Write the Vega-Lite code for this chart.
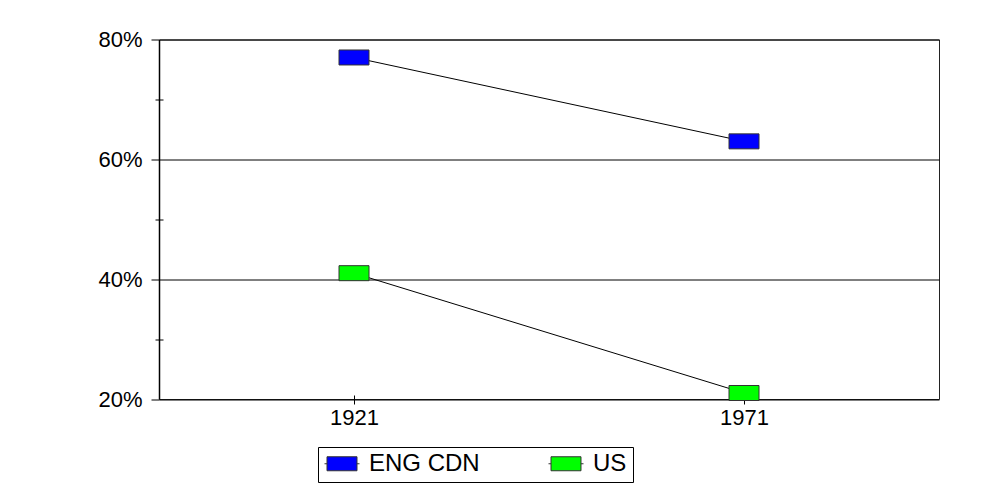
{
  "$schema": "https://vega.github.io/schema/vega-lite/v6.json",
  "autosize": {"type": "none"},
  "width": 780,
  "height": 359.5,
  "padding": {"left": 159, "top": 39.5, "right": 50, "bottom": 88},
  "background": "white",
  "config": {
    "font": "Liberation Sans",
    "view": {"stroke": "#222", "strokeWidth": 1},
    "axis": {"labelFont": "Liberation Sans", "labelColor": "#000", "tickColor": "#000", "title": null}
  },
  "data": {
    "values": [
      {"year": "1921", "series": "ENG CDN", "share": 0.77},
      {"year": "1971", "series": "ENG CDN", "share": 0.63},
      {"year": "1921", "series": "US", "share": 0.41},
      {"year": "1971", "series": "US", "share": 0.21}
    ]
  },
  "encoding": {
    "x": {
      "field": "year",
      "type": "ordinal",
      "scale": {"type": "point", "padding": 0.5},
      "axis": {
        "labelAngle": 0,
        "labelFontSize": 22,
        "domain": false,
        "offset": -4,
        "tickSize": 9,
        "tickWidth": 1,
        "labelPadding": 3,
        "grid": false
      }
    }
  },
  "layer": [
    {
      "mark": {"type": "line", "color": "#000", "strokeWidth": 1},
      "encoding": {
        "detail": {"field": "series"},
        "y": {
          "field": "share",
          "type": "quantitative",
          "scale": {"domain": [0.2, 0.8], "nice": false, "zero": false},
          "axis": {
            "values": [0.2, 0.4, 0.6, 0.8],
            "format": ".0%",
            "labelFontSize": 22,
            "tickSize": 8,
            "labelPadding": 9,
            "domain": true,
            "domainColor": "#000",
            "domainWidth": 1.5,
            "grid": true,
            "gridColor": "#000",
            "gridWidth": 1,
            "gridOpacity": 1
          }
        }
      }
    },
    {
      "mark": {
        "type": "point",
        "shape": "M-1,-0.5L1,-0.5L1,0.5L-1,0.5Z",
        "filled": true,
        "opacity": 1,
        "size": 900,
        "stroke": "#333",
        "strokeWidth": 1
      },
      "encoding": {
        "y": {
          "field": "share",
          "type": "quantitative",
          "scale": {"domain": [0.2, 0.8], "nice": false, "zero": false},
          "axis": {
            "orient": "left",
            "values": [0.3, 0.5, 0.7],
            "labels": false,
            "domain": false,
            "grid": false,
            "offset": -4,
            "tickSize": 8
          }
        },
        "color": {
          "field": "series",
          "type": "nominal",
          "scale": {"domain": ["ENG CDN", "US"], "range": ["#0000FF", "#00FF00"]},
          "legend": {
            "title": null,
            "orient": "none",
            "direction": "horizontal",
            "columns": 2,
            "gridAlign": "all",
            "legendX": 159,
            "legendY": 407.5,
            "padding": 6,
            "columnPadding": 68,
            "clipHeight": 21,
            "strokeColor": "#000",
            "fillColor": "#fff",
            "symbolType": "M-1,0L-0.857,0M-0.857,-0.4L0.857,-0.4L0.857,0.4L-0.857,0.4ZM0.857,0L1,0",
            "symbolSize": 1225,
            "symbolStrokeColor": "#333",
            "symbolStrokeWidth": 1,
            "symbolOpacity": 1,
            "labelFont": "Liberation Sans",
            "labelFontSize": 24,
            "labelColor": "#000",
            "labelOffset": 9
          }
        }
      }
    }
  ],
  "resolve": {"axis": {"y": "independent"}}
}
